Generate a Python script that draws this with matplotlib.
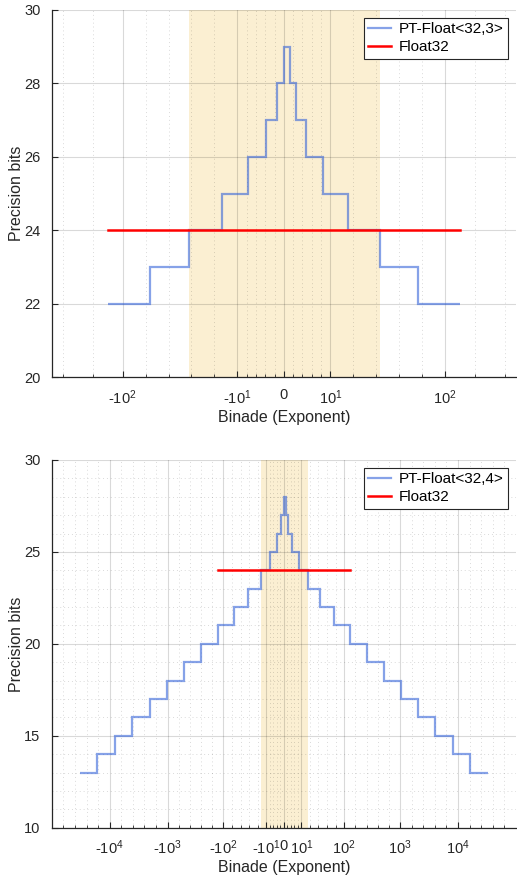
#Precision of PT-Float vs Float32 per binade

import numpy as np
import matplotlib
matplotlib.use("Agg")
import matplotlib.pyplot as plt
from matplotlib.ticker import FixedLocator, FixedFormatter

plt.rcParams['font.family'] = ['Liberation Sans', 'DejaVu Sans']
plt.rcParams['mathtext.default'] = 'regular'

# ---- data ----
# binade edges where the precision changes, and the precision in between
pt3_edges = [-127, -63, -31, -15, -7, -3, -1, 0, 1, 2, 4, 8, 16, 32, 64, 128]
pt3_bits = [22, 23, 24, 25, 26, 27, 28, 29, 28, 27, 26, 25, 24, 23, 22]

pt4_edges = [-32767, -16383, -8191, -4095, -2047, -1023, -511, -255, -127, -63,
             -31, -15, -7, -3, -1, 0, 1, 2, 4, 8, 16, 32, 64, 128, 256, 512,
             1024, 2048, 4096, 8192, 16384, 32768]
pt4_bits = [13, 14, 15, 16, 17, 18, 19, 20, 21, 22, 23, 24, 25, 26, 27, 28,
            27, 26, 25, 24, 23, 22, 21, 20, 19, 18, 17, 16, 15, 14, 13]

float32_range = [-127, 128]
float32_bits = 24

# region where PT-Float has at least Float32 precision
pt3_band = [-31, 32]
pt4_band = [-15, 16]

pt3_label = "PT-Float<32,3>"
pt4_label = "PT-Float<32,4>"


def fwd(x):
    x = np.asarray(x, dtype=float)
    return np.sign(x) * np.log10(1 + np.abs(x) / 10)


def inv(t):
    t = np.asarray(t, dtype=float)
    return np.sign(t) * 10 * (10 ** np.abs(t) - 1)


def setup_xaxis(ax, kmax, tlim):
    ax.set_xscale('function', functions=(fwd, inv))
    ax.set_xlim(inv(-tlim), inv(tlim))

    major = [-(10 ** k) for k in range(kmax, 0, -1)] + [0] + [10 ** k for k in range(1, kmax + 1)]
    labels = ["-$10^{%d}$" % k for k in range(kmax, 0, -1)] + ["0"] + ["$10^{%d}$" % k for k in range(1, kmax + 1)]
    ax.xaxis.set_major_locator(FixedLocator(major))
    ax.xaxis.set_major_formatter(FixedFormatter(labels))

    # 4 minor ticks evenly spaced (in axis space) between majors
    steps = [0.0] + [float(fwd(10 ** k)) for k in range(1, kmax + 2)]
    minor_t = []
    for a, b in zip(steps[:-1], steps[1:]):
        for i in range(1, 5):
            t = a + (b - a) * i / 5
            minor_t += [t, -t]
    ax.xaxis.set_minor_locator(FixedLocator(sorted(inv(minor_t))))


def draw_panel(ax, edges, bits, band, label, kmax, tlim, ylim, ymajor, yminor):
    ax.axvspan(band[0], band[1], color='#EDB120', alpha=0.2, lw=0, zorder=0)
    ax.stairs(bits, edges, baseline=None, color='#2f5fd8', alpha=0.58, lw=1.6,
              label=label, zorder=3)
    ax.plot(float32_range, [float32_bits, float32_bits], color='#ff0000', lw=1.8,
            label='Float32', zorder=4)

    setup_xaxis(ax, kmax, tlim)
    ax.set_ylim(*ylim)
    ax.set_yticks(np.arange(ylim[0], ylim[1] + 1, ymajor))
    if yminor:
        ax.set_yticks(np.arange(ylim[0], ylim[1] + 1, yminor), minor=True)

    ax.grid(True, which='major', color='black', alpha=0.15, lw=0.8)
    ax.grid(True, which='minor', color='black', alpha=0.15, lw=0.7, linestyle=(0, (1, 3)))
    ax.set_axisbelow(False)

    for s in ['top', 'right']:
        ax.spines[s].set_visible(False)
    for s in ['left', 'bottom']:
        ax.spines[s].set_color('#262626')
        ax.spines[s].set_linewidth(0.9)
    ax.tick_params(which='both', direction='in', colors='#262626', labelsize=10.5)
    ax.tick_params(which='major', length=4, pad=8)
    ax.tick_params(which='minor', length=2)
    ax.tick_params(axis='y', which='minor', length=0)

    ax.set_xlabel("Binade (Exponent)", fontsize=11.5, color='#262626', labelpad=2)
    ax.set_ylabel("Precision bits", fontsize=11.5, color='#262626', labelpad=0)

    leg = ax.legend(loc='upper right', fontsize=11, fancybox=False, framealpha=1,
                    edgecolor='#262626', handlelength=1.5, borderaxespad=0.5,
                    borderpad=0.3, labelspacing=0.25, handletextpad=0.5)
    leg.get_frame().set_linewidth(0.8)
    leg.legend_handles[0].set_alpha(0.58)


fig = plt.figure(figsize=(5.17, 8.76), dpi=100)
ax1 = fig.add_axes([0.100, 0.5696, 0.898, 0.419])
ax2 = fig.add_axes([0.100, 0.0551, 0.898, 0.4198])

draw_panel(ax1, pt3_edges, pt3_bits, pt3_band, pt3_label, 2, 1.5, (20, 30), 2, None)
draw_panel(ax2, pt4_edges, pt4_bits, pt4_band, pt4_label, 4, 4.0, (10, 30), 5, 1)

fig.savefig("out.png", dpi=100)
